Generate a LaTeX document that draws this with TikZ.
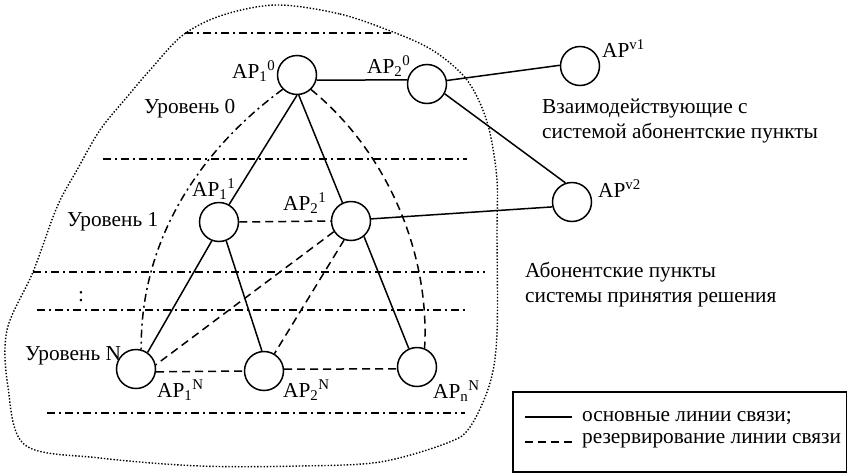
\documentclass[tikz,border=0pt]{standalone}
\usepackage{fontspec}
\setmainfont{Liberation Serif}
\usepackage{tikz}
\usetikzlibrary{positioning}

\begin{document}
\begin{tikzpicture}[x=1pt, y=-1pt, font=\fontsize{21.3}{25}\selectfont,
    ap/.style={circle, draw, line width=1.5pt, minimum size=39pt, inner sep=0pt},
    txt/.style={anchor=base west, inner sep=0pt},
    mainline/.style={line width=1.5pt},
    reserve/.style={line width=1.5pt, dash pattern=on 8pt off 5pt},
    level/.style={line width=1.3pt, dash pattern=on 8pt off 4pt on 2pt off 4pt}]
    \useasboundingbox (0,0) rectangle (848,474);

    % system boundary
    \draw[line width=1.4pt, dash pattern=on 1.4pt off 1.8pt] plot[smooth cycle, tension=0.55] coordinates {
        (277,5) (340,14) (393,32) (427,47) (450,63) (467,80) (480,103)
        (490,133) (497,180) (497,233) (497,333) (490,383) (470,427)
        (447,443) (380,462) (300,466) (200,466) (100,458) (25,445)
        (8,387) (7,330) (33,272) (57,207) (77,170) (100,130) (127,97)
        (150,70) (183,35) (223,15)};

    % level borders
    \draw[level] (185,33) -- (393,33);
    \draw[level] (103,159) -- (467,159);
    \draw[level] (33,272) -- (485,272);
    \draw[level] (37,310) -- (467,310);
    \draw[level] (47,413) -- (465,413);

    % subscriber points
    \node[ap] (a10) at (297,75) {};
    \node[ap] (a20) at (427,84) {};
    \node[ap] (v1) at (580,66) {};
    \node[ap] (v2) at (572,202) {};
    \node[ap] (a11) at (219,222) {};
    \node[ap] (a21) at (351,221) {};
    \node[ap] (aN1) at (136,369) {};
    \node[ap] (aN2) at (264,371) {};
    \node[ap] (aNn) at (417,367) {};

    \node[txt] (l10) at (232,78) {AP\textsubscript{1}\textsuperscript{0}};
    \node[txt] (l20) at (367,73) {AP\textsubscript{2}\textsuperscript{0}};
    \node[txt] (lv1) at (602,57) {AP\textsuperscript{v1}};
    \node[txt] (lv2) at (598,197) {AP\textsuperscript{v2}};
    \node[txt] (l11) at (192,196) {AP\textsubscript{1}\textsuperscript{1}};
    \node[txt] (l21) at (283,210) {AP\textsubscript{2}\textsuperscript{1}};
    \node[txt] (lN1) at (157,397) {AP\textsubscript{1}\textsuperscript{N}};
    \node[txt] (lN2) at (283,397) {AP\textsubscript{2}\textsuperscript{N}};
    \node[txt] (lNn) at (433,398) {AP\textsubscript{n}\textsuperscript{N}};

    % main links
    \draw[mainline] (a10.-15) -- (a20.168);
    \draw[mainline] (a20.10) -- (v1.178);
    \draw[mainline] (a20.331) -- (v2.109);
    \draw[mainline] (a21.6) -- (v2.194);
    \draw[mainline] (a10.south) -- (a11.60);
    \draw[mainline] (a10.-85) -- (a21.115);
    \draw[mainline] (a11.249) -- (aN1.55);
    \draw[mainline] (a11.291) -- (aN2.96);
    \draw[mainline] (a21.310) -- (aNn.114);

    % reserve links
    \draw[reserve] (a11.east) -- (a21.west);
    \draw[reserve] (a21.212) -- (aN1.12);
    \draw[reserve] (a21.250) -- (aN2.59);
    \draw[reserve] (aN1.-8) -- (aN2.west);
    \draw[reserve] (aN2.5) -- (aNn.185);
    \draw[reserve] (a10.314) .. controls (385,150) and (430,250) .. (aNn.68);
    \draw[level, line width=1.5pt] (a10.225) .. controls (200,150) and (140,240) .. (aN1.75);

    % level names
    \node[txt] (lev0) at (144,113) {Уровень 0};
    \node[txt] (lev1) at (67,226) {Уровень 1};
    \node[txt] (levd) at (78,301) {:};
    \node[txt] (levN) at (25,360) {Уровень N};

    % annotations
    \node[txt, align=left] (outer) at (542,138) {Взаимодействующие с\\системой абонентские пункты};
    \node[txt, align=left] (inner) at (525,302) {Абонентские пункты\\системы принятия решения};

    % legend
    \draw[line width=1.5pt] (513,392) rectangle (846.5,472);
    \coordinate (m1) at (525,417);
    \coordinate (m2) at (572,417);
    \coordinate (r1) at (525,442);
    \coordinate (r2) at (572,442);
    \draw[mainline] (m1) -- (m2);
    \draw[reserve] (r1) -- (r2);
    \node[txt] (legm) at (582,421) {основные линии связи;};
    \node[txt] (legr) at (582,443) {резервирование линии связи};
\end{tikzpicture}
\end{document}
